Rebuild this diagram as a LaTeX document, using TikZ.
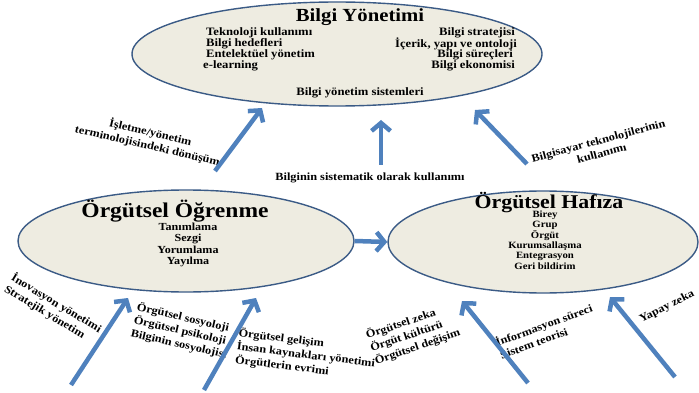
\documentclass[tikz,border=0pt]{standalone}
\usepackage{fontspec}
\setmainfont[FakeStretch=1.12]{Liberation Serif}
\usetikzlibrary{shapes.geometric,arrows.meta}
\definecolor{ellfill}{HTML}{EEECE1}
\definecolor{elldraw}{HTML}{3B5B86}
\definecolor{arrblue}{HTML}{4F81BD}
\newcommand{\fsz}[2]{\fontsize{#1}{#2}\selectfont\bfseries}
\begin{document}
\begin{tikzpicture}[x=1pt,y=-1pt,
  field/.style={ellipse, draw=elldraw, fill=ellfill, line width=1.4pt, inner sep=0pt},
  flow/.style={draw=arrblue, line width=4.5pt, -{Straight Barb[length=8pt,width=19pt]}},
  head/.style={inner sep=0pt},
  item/.style={font=\fsz{11.3}{11}, inner sep=0pt},
  lab/.style={font=\fsz{11}{13.5}, inner sep=0pt, align=left},
]
\useasboundingbox (0,0) rectangle (699,393);

% the three fields
\node[field, minimum width=410pt, minimum height=104pt] (bilgi) at (337,54) {};
\node[field, minimum width=336pt, minimum height=102pt] (ogrenme) at (186,241) {};
\node[field, minimum width=310pt, minimum height=102pt] (hafiza) at (543,242) {};

% Bilgi Yonetimi content
\node[head, font=\fsz{18.5}{20}] (bTitle) at (360,17) {Bilgi Yönetimi};
\node[item, anchor=west] (b1) at (206,33) {Teknoloji kullanımı};
\node[item, anchor=west] (b2) at (206,44) {Bilgi hedefleri};
\node[item, anchor=west] (b3) at (206,55) {Entelektüel yönetim};
\node[item, anchor=west] (b4) at (203,66) {e-learning};
\node[item, anchor=east] (b5) at (515,33) {Bilgi stratejisi};
\node[item, anchor=east] (b6) at (517,44) {İçerik, yapı ve ontoloji};
\node[item, anchor=east] (b7) at (513,55) {Bilgi süreçleri};
\node[item, anchor=east] (b8) at (515,66) {Bilgi ekonomisi};
\node[item] (b9) at (360,93) {Bilgi yönetim sistemleri};

% Orgutsel Ogrenme content
\node[head, font=\fsz{21}{22}] (oTitle) at (175,211) {Örgütsel Öğrenme};
\node[item, align=center, font=\fsz{10.8}{11.2}] (oList) at (188,245) {Tanımlama\\Sezgi\\Yorumlama\\Yayılma};

% Orgutsel Hafiza content
\node[head, font=\fsz{19.5}{21}] (hTitle) at (549,203) {Örgütsel Hafıza};
\node[item, align=center, font=\fsz{9.6}{10.3}] (hList) at (545,240) {Birey\\Grup\\Örgüt\\Kurumsallaşma\\Entegrasyon\\Geri bildirim};

% middle label
\node[item, font=\fsz{11}{12}] (mid) at (370,178) {Bilginin sistematik olarak kullanımı};

% slanted labels
\node[lab, align=center, rotate=-13] (l1) at (149,139) {İşletme/yönetim\\terminolojisindeki dönüşüm};
\node[lab, align=center, rotate=15, font=\fsz{11}{13}] (l2) at (600,147) {Bilgisayar teknolojilerinin\\kullanımı};
\node[lab, rotate=-31] (l3) at (53,309) {İnovasyon yönetimi\\Stratejik yönetim};
\node[lab, rotate=-13] (l4) at (182,331) {Örgütsel sosyoloji\\Örgütsel psikoloji\\Bilginin sosyolojisi};
\node[lab, rotate=-7] (l5) at (306,355) {Örgütsel gelişim\\İnsan kaynakları yönetimi\\Örgütlerin evrimi};
\node[lab, rotate=19] (l6) at (413,334) {Örgütsel zeka\\Örgüt kültürü\\Örgütsel değişim};
\node[lab, rotate=20] (l7) at (546,331) {İnformasyon süreci\\Sistem teorisi};
\node[lab, rotate=27] (l8) at (667,307) {Yapay zeka};

% arrow end points
\coordinate (t1) at (215,171); \coordinate (h1) at (262,108);
\coordinate (t2) at (381,165); \coordinate (h2) at (381,120);
\coordinate (t3) at (527,164); \coordinate (h3) at (475,110);
\coordinate (t5) at (71,385);  \coordinate (h5) at (128,298);
\coordinate (t6) at (204,390); \coordinate (h6) at (256,298);
\coordinate (t7) at (528,383); \coordinate (h7) at (462,301);
\coordinate (t8) at (675,377); \coordinate (h8) at (610,297);

\draw[flow] (t1) -- (h1);
\draw[flow] (t2) -- (h2);
\draw[flow] (t3) -- (h3);
\draw[flow] (ogrenme.east) -- (hafiza.west);
\draw[flow] (t5) -- (h5);
\draw[flow] (t6) -- (h6);
\draw[flow] (t7) -- (h7);
\draw[flow] (t8) -- (h8);
\end{tikzpicture}
\end{document}
